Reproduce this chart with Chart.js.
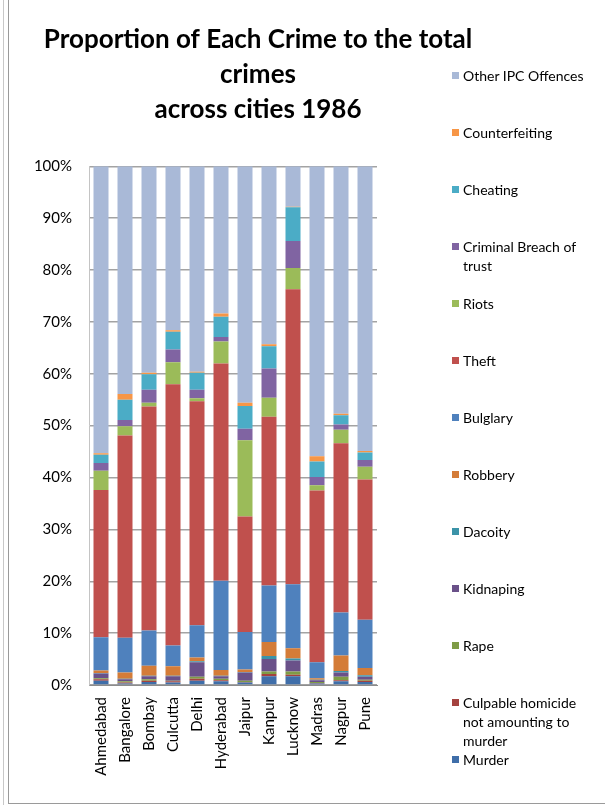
<!DOCTYPE html>
<html>
<head>
<meta charset="utf-8">
<script src="https://cdn.jsdelivr.net/npm/chart.js@4/dist/chart.umd.min.js"></script>
<style>
    body { margin: 0; background: #fff; }
    #wrap { position: relative; width: 605px; height: 806px; overflow: hidden; }
    #frame { position: absolute; left: 8px; top: -2px; width: 620px; height: 804px; border: 1px solid #9a9a9a; }
    #frame2 { position: absolute; left: 3px; top: -2px; width: 620px; height: 807px; border-left: 1px solid #c8c8c8; }
    #legend { position: absolute; left: 452px; top: 0; width: 150px; font-family: Lato, 'Open Sans', sans-serif; font-size: 14px; color: #000; }
    .item { position: absolute; left: 0; display: flex; align-items: flex-start; line-height: 19px; }
    .box { width: 7px; height: 7px; margin-top: 6px; margin-right: 4px; flex: none; }
</style>
</head>
<body>
<div id="wrap">
    <div id="frame2"></div>
    <div id="frame"></div>
    <canvas id="chart" width="605" height="806"></canvas>
    <div id="legend"></div>
</div>
<script>
// cities on the x axis
const cities = ['Ahmedabad', 'Bangalore', 'Bombay', 'Culcutta', 'Delhi', 'Hyderabad',
    'Jaipur', 'Kanpur', 'Lucknow', 'Madras', 'Nagpur', 'Pune'];

// share of each crime in %, same order as cities
const murder         = [0.8, 0.3, 0.6, 0.5, 0.8, 0.7, 0.5, 1.7, 1.7, 0.3, 0.7, 0.6];
const culpable       = [0.3, 0.2, 0.2, 0.2, 0.4, 0.2, 0.1, 0.4, 0.3, 0.1, 0.2, 0.2];
const rape           = [0.2, 0.2, 0.3, 0.1, 0.4, 0.3, 0.2, 0.5, 0.6, 0.2, 0.7, 0.2];
const kidnaping      = [0.9, 0.4, 0.6, 0.9, 2.8, 0.5, 1.6, 2.4, 2.1, 0.3, 0.8, 0.6];
const dacoity        = [0.1, 0.1, 0.1, 0.1, 0.2, 0.1, 0.1, 0.6, 0.4, 0.1, 0.3, 0.3];
const robbery        = [0.5, 1.2, 1.9, 1.8, 0.7, 1.1, 0.5, 2.7, 2.0, 0.3, 3.0, 1.4];
const bulglary       = [6.4, 6.7, 6.8, 4.0, 6.2, 17.2, 7.2, 10.9, 12.3, 3.1, 8.3, 9.3];
const theft          = [28.4, 39.0, 43.2, 50.4, 43.2, 41.9, 22.3, 32.5, 56.9, 33.1, 32.6, 27.0];
const riots          = [3.7, 1.8, 0.7, 4.2, 0.6, 4.2, 14.7, 3.7, 4.1, 1.0, 2.6, 2.5];
const breachOfTrust  = [1.5, 1.2, 2.5, 2.5, 1.6, 0.9, 2.2, 5.6, 5.2, 1.6, 1.0, 1.3];
const cheating       = [1.6, 3.9, 3.0, 3.4, 3.3, 3.9, 4.4, 4.3, 6.5, 3.0, 1.8, 1.4];
const counterfeiting = [0.3, 1.1, 0.3, 0.3, 0.2, 0.6, 0.6, 0.4, 0.1, 1.0, 0.3, 0.3];
const otherIpc       = [55.3, 43.9, 39.8, 31.6, 39.6, 28.4, 45.6, 34.3, 7.8, 55.9, 47.7, 54.9];

const yTicks = [0, 10, 20, 30, 40, 50, 60, 70, 80, 90, 100];

// series from bottom of the stack to the top
const series = [
    { label: 'Murder', data: murder, color: '#3f6ea9' },
    { label: ['Culpable homicide', 'not amounting to', 'murder'], data: culpable, color: '#a4423f' },
    { label: 'Rape', data: rape, color: '#7f9c46' },
    { label: 'Kidnaping', data: kidnaping, color: '#6a5189' },
    { label: 'Dacoity', data: dacoity, color: '#3b93a8' },
    { label: 'Robbery', data: robbery, color: '#d47c38' },
    { label: 'Bulglary', data: bulglary, color: '#4f81bd' },
    { label: 'Theft', data: theft, color: '#c0504d' },
    { label: 'Riots', data: riots, color: '#9bbb59' },
    { label: ['Criminal Breach of', 'trust'], data: breachOfTrust, color: '#8064a2' },
    { label: 'Cheating', data: cheating, color: '#4bacc6' },
    { label: 'Counterfeiting', data: counterfeiting, color: '#f79646' },
    { label: 'Other IPC Offences', data: otherIpc, color: '#a9b9d7' },
];

const font = 'Lato';

const chart = new Chart(document.getElementById('chart'), {
    type: 'bar',
    data: {
        labels: cities,
        datasets: series.map(s => ({
            label: Array.isArray(s.label) ? s.label.join(' ') : s.label,
            data: s.data,
            backgroundColor: s.color,
            borderWidth: 0,
            barPercentage: 0.625,
            categoryPercentage: 1,
        })),
    },
    options: {
        responsive: false,
        animation: false,
        layout: { padding: { left: 0, right: 89, top: 0, bottom: 0 } },
        plugins: {
            legend: { display: false },
            tooltip: { enabled: false },
            title: {
                display: true,
                text: ['Proportion of Each Crime to the total', 'crimes', 'across cities 1986'],
                color: '#000',
                font: { family: font, size: 26, weight: 'bold', lineHeight: 1.35 },
                padding: { top: 22, bottom: 39 },
            },
        },
        scales: {
            x: {
                stacked: true,
                grid: { display: false },
                border: { color: '#8c8c8c', width: 1 },
                ticks: {
                    color: '#000',
                    font: { family: font, size: 15 },
                    minRotation: 90,
                    maxRotation: 90,
                    padding: 4,
                    autoSkip: false,
                },
                afterFit: s => { s.height = 121; },
            },
            y: {
                stacked: true,
                min: 0,
                max: 100,
                afterBuildTicks: s => { s.ticks = yTicks.map(v => ({ value: v })); },
                grid: { color: '#a3a3a3', lineWidth: 1.5, drawTicks: false },
                border: { color: '#c4c4c4', width: 1 },
                ticks: {
                    color: '#000',
                    font: { family: font, size: 15 },
                    padding: 17,
                    callback: v => v + '%',
                },
                afterFit: s => { s.width = 89; },
            },
            pad: {
                type: 'linear',
                position: 'right',
                display: true,
                grid: { display: false },
                border: { display: false },
                ticks: { display: false },
                afterFit: s => { s.width = 139; },
            },
        },
    },
});

// legend on the right, top entry is the top of the stack
const legendEl = document.getElementById('legend');
series.slice().reverse().forEach((s, i) => {
    const item = document.createElement('div');
    item.className = 'item';
    item.style.top = (75 + i * 57 - 9.5) + 'px';
    const lines = Array.isArray(s.label) ? s.label : [s.label];
    item.innerHTML = `<span class="box" style="background:${s.color}"></span><span>${lines.join('<br>')}</span>`;
    legendEl.appendChild(item);
});
</script>
</body>
</html>
